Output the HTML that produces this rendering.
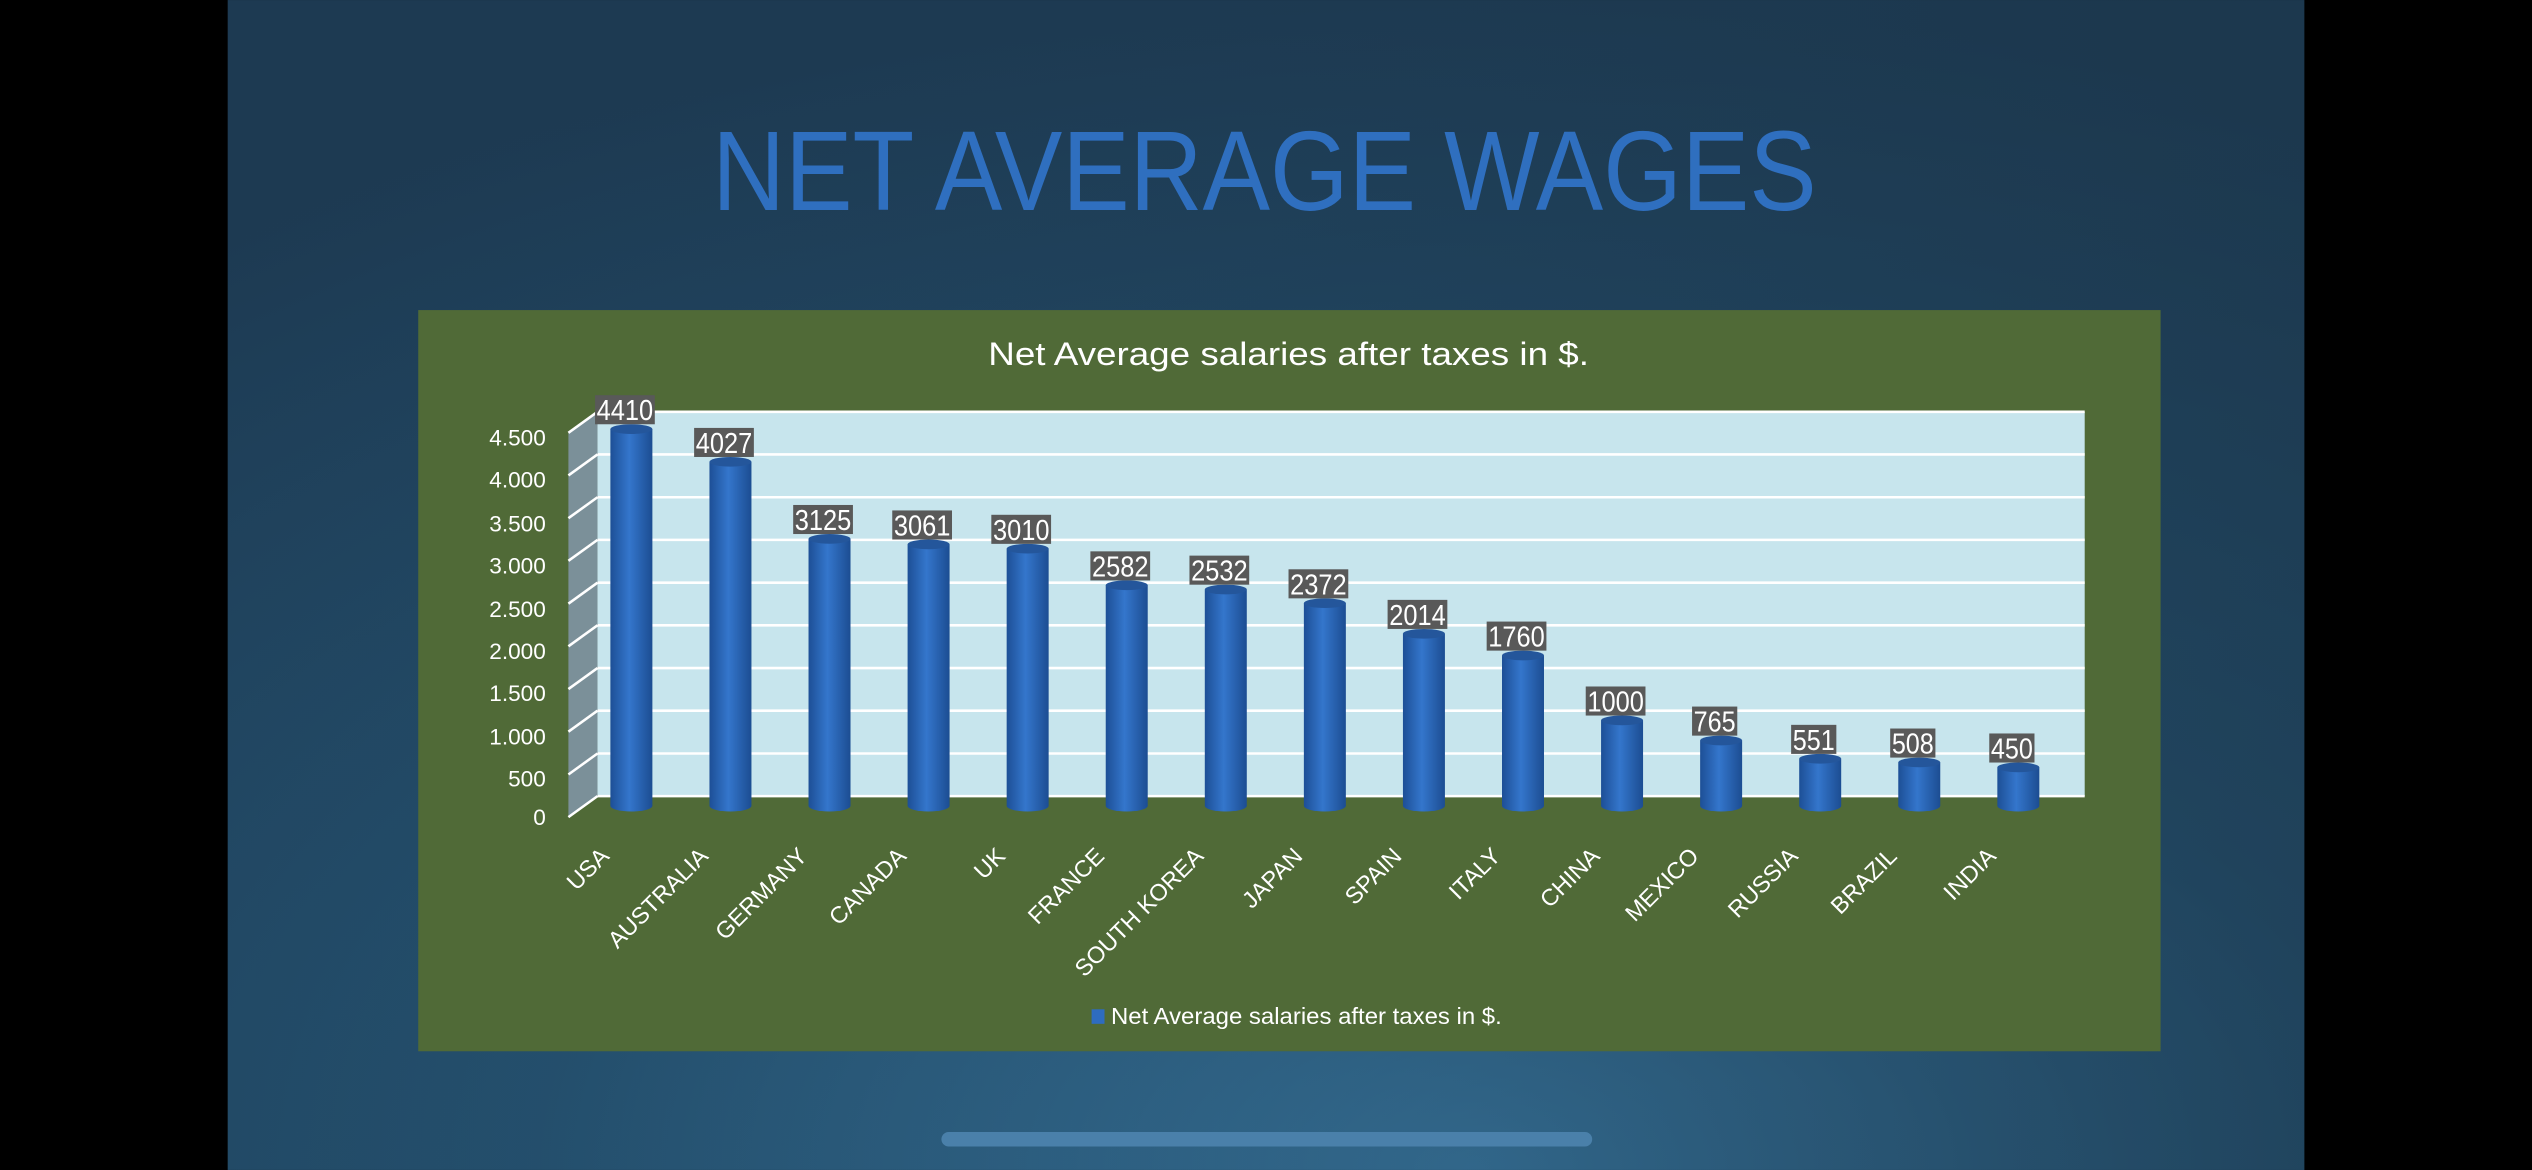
<!DOCTYPE html>
<html><head><meta charset="utf-8"><style>
html,body{margin:0;padding:0;background:#000;}
svg{display:block;}
</style></head><body>
<svg width="2532" height="1170" viewBox="0 0 1568 724.5" xmlns="http://www.w3.org/2000/svg" font-family="'Liberation Sans', sans-serif">
<defs>
<radialGradient id="bg" cx="0.6" cy="1.0" r="1.0">
<stop offset="0" stop-color="#3a7aa3"/>
<stop offset="0.45" stop-color="#24506e"/>
<stop offset="1" stop-color="#1d3a52"/>
</radialGradient>
<linearGradient id="bgtop" x1="0" y1="0" x2="1" y2="0">
<stop offset="0" stop-color="#1f3d56" stop-opacity="0"/>
<stop offset="1" stop-color="#1b3549" stop-opacity="0.5"/>
</linearGradient>
<linearGradient id="cyl" x1="0" y1="0" x2="1" y2="0">
<stop offset="0" stop-color="#1d4f96"/>
<stop offset="0.45" stop-color="#3476cc"/>
<stop offset="1" stop-color="#1c4d92"/>
</linearGradient>
</defs>
<rect x="0" y="0" width="1568" height="724.5" fill="#000"/>
<rect x="141" y="0" width="1286" height="724.5" fill="url(#bg)"/>
<rect x="141" y="0" width="1286" height="724.5" fill="url(#bgtop)"/>
<text x="783" y="130" text-anchor="middle" font-size="70" fill="#2f6fbf" textLength="684" lengthAdjust="spacingAndGlyphs">NET AVERAGE WAGES</text>
<rect x="259" y="192" width="1079" height="459" fill="#506a37"/>
<text x="798" y="226" text-anchor="middle" font-size="20" fill="#fff" textLength="372" lengthAdjust="spacingAndGlyphs">Net Average salaries after taxes in $.</text>
<rect x="370" y="255" width="921" height="238" fill="#c7e5ed"/>
<polygon points="352,268 370,255 370,493 352,506" fill="#7b9099"/>
<g stroke="#fff" stroke-width="1.6" fill="none">
<line x1="370" y1="255" x2="1291" y2="255"/>
<line x1="370" y1="281.4" x2="1291" y2="281.4"/>
<line x1="370" y1="307.9" x2="1291" y2="307.9"/>
<line x1="370" y1="334.3" x2="1291" y2="334.3"/>
<line x1="370" y1="360.8" x2="1291" y2="360.8"/>
<line x1="370" y1="387.2" x2="1291" y2="387.2"/>
<line x1="370" y1="413.7" x2="1291" y2="413.7"/>
<line x1="370" y1="440.1" x2="1291" y2="440.1"/>
<line x1="370" y1="466.6" x2="1291" y2="466.6"/>
<line x1="370" y1="493" x2="1291" y2="493"/>
<line x1="352" y1="268" x2="370" y2="255"/>
<line x1="352" y1="294.4" x2="370" y2="281.4"/>
<line x1="352" y1="320.9" x2="370" y2="307.9"/>
<line x1="352" y1="347.3" x2="370" y2="334.3"/>
<line x1="352" y1="373.8" x2="370" y2="360.8"/>
<line x1="352" y1="400.2" x2="370" y2="387.2"/>
<line x1="352" y1="426.7" x2="370" y2="413.7"/>
<line x1="352" y1="453.1" x2="370" y2="440.1"/>
<line x1="352" y1="479.6" x2="370" y2="466.6"/>
<line x1="352" y1="506" x2="370" y2="493"/>
</g>
<g font-size="14" fill="#fff" text-anchor="end">
<text x="338" y="276">4.500</text>
<text x="338" y="302">4.000</text>
<text x="338" y="329">3.500</text>
<text x="338" y="355">3.000</text>
<text x="338" y="382">2.500</text>
<text x="338" y="408">2.000</text>
<text x="338" y="434">1.500</text>
<text x="338" y="461">1.000</text>
<text x="338" y="487">500</text>
<text x="338" y="511">0</text>
</g>
<g id="bars"></g>
<g font-size="14.5" fill="#fff" id="cats"></g>
<g font-size="18" fill="#fff" id="labels"></g>
<rect x="676" y="625" width="8" height="9" fill="#2e6cc0"/>
<text x="688" y="634" font-size="14.5" fill="#fff" textLength="242" lengthAdjust="spacingAndGlyphs">Net Average salaries after taxes in $.</text>
<rect x="583" y="701" width="403" height="9" rx="4.5" fill="#4a80aa"/>
<script>
var d=[["USA",4410],["AUSTRALIA",4027],["GERMANY",3125],["CANADA",3061],["UK",3010],["FRANCE",2582],["SOUTH KOREA",2532],["JAPAN",2372],["SPAIN",2014],["ITALY",1760],["CHINA",1000],["MEXICO",765],["RUSSIA",551],["BRAZIL",508],["INDIA",450]];
var ns="http://www.w3.org/2000/svg";
function el(t,a,p,txt){var e=document.createElementNS(ns,t);for(var k in a)e.setAttribute(k,a[k]);if(txt)e.textContent=txt;document.getElementById(p).appendChild(e);return e;}
d.forEach(function(r,i){
 var cx=391+i*61.35, w=26, base=499, top=base-r[1]*0.0529;
 el("rect",{x:cx-w/2,y:top,width:w,height:base-top,fill:"url(#cyl)"},"bars");
 el("ellipse",{cx:cx,cy:base,rx:w/2,ry:3.5,fill:"url(#cyl)"},"bars");
 el("ellipse",{cx:cx,cy:top,rx:w/2,ry:3,fill:"#24569b"},"bars");
 var s=String(r[1]), bw=s.length*9+1, by=top-21;
 el("rect",{x:cx-4-bw/2,y:by,width:bw,height:18,fill:"#595959"},"labels");
 el("text",{x:cx-4,y:by+15.5,"text-anchor":"middle",textLength:bw-2,lengthAdjust:"spacingAndGlyphs"},"labels",s);
 var tx=cx-13, ty=531;
 el("text",{x:tx,y:ty,"text-anchor":"end",transform:"rotate(-45 "+tx+" "+ty+")"},"cats",r[0]);
});
</script>
</svg>
</body></html>
